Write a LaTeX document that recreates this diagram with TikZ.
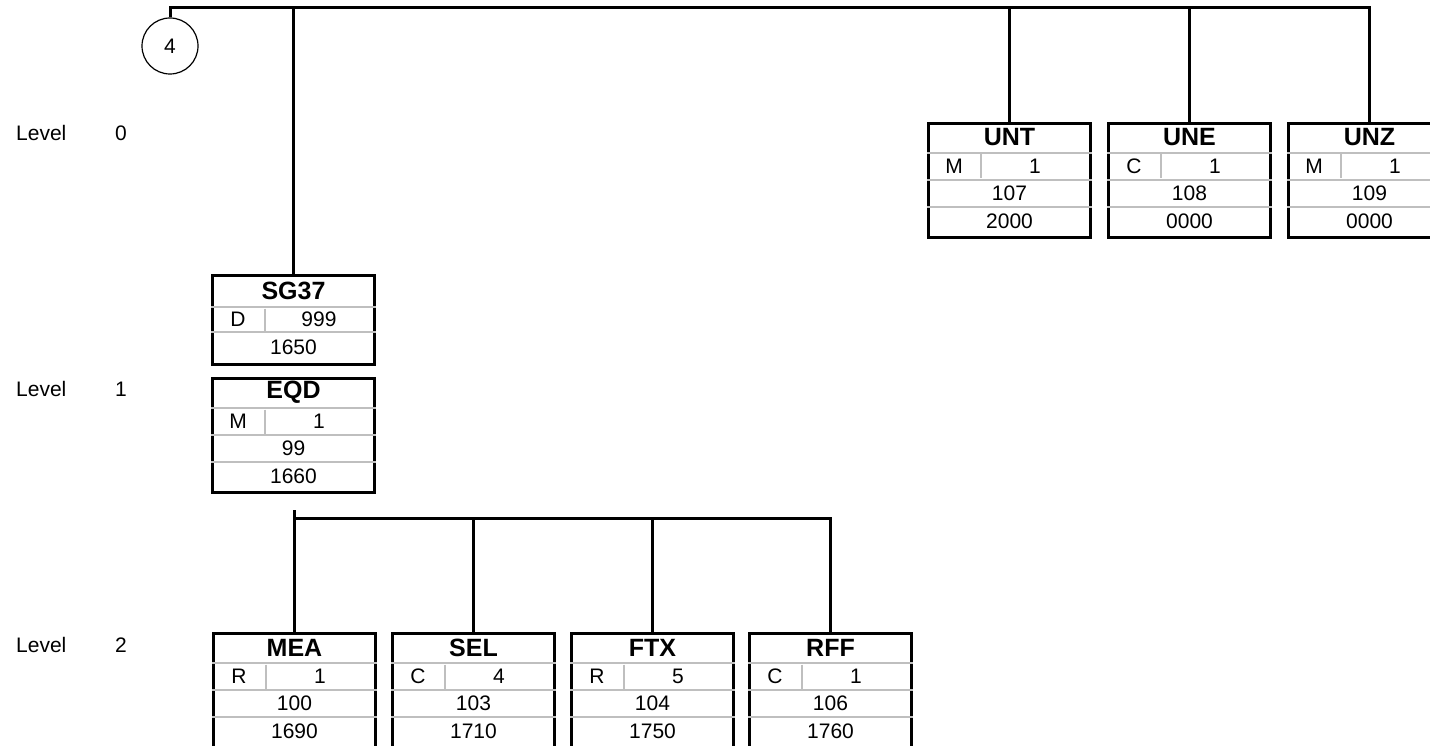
\documentclass[tikz,border=0pt]{standalone}
\usepackage{fontspec}
\setmainfont{Liberation Sans}
\usetikzlibrary{positioning}
\tikzset{
  link/.style={line width=3pt,draw=black},
  segbox/.style={draw=black,line width=3pt,minimum width=162pt,minimum height=114pt,
    inner sep=0pt,anchor=north west},
  grpbox/.style={segbox,minimum height=89pt},
  rowline/.style={draw=gray!50,line width=1.6pt,shorten <=1.5pt,shorten >=1.5pt},
  ttl/.style={font=\fontsize{25}{28}\selectfont\bfseries,inner sep=0pt},
  txt/.style={font=\fontsize{21}{24}\selectfont,inner sep=0pt},
}

\begin{document}
\begin{tikzpicture}[x=1pt,y=-1pt]
  \useasboundingbox (0,0) rectangle (1430,746);
  % level labels
  \foreach \l/\y in {0/133,1/389,2/645}
  {
    \node[txt,anchor=west] (lv\l) at (16,\y) {Level};
    \node[txt] (lvn\l) at (121,\y) {\l};
  }
  % connector circle
  \node[circle,draw,line width=1.2pt,minimum size=56pt,txt] (circ) at (170,46) {4};
  % segment group
  \node[grpbox] (sg37) at (211,274) {};
  \draw[rowline] ([yshift=-33pt]sg37.north west) -- ([yshift=-33pt]sg37.north east)
    ([yshift=-58pt]sg37.north west) -- ([yshift=-58pt]sg37.north east)
    ([shift={(54pt,-33pt)}]sg37.north west) -- ([shift={(54pt,-58pt)}]sg37.north west);
  \node[ttl] (sg37-t) at ([yshift=-16.5pt]sg37.north) {SG37};
  \node[txt] (sg37-s) at ([shift={(27pt,-45.5pt)}]sg37.north west) {D};
  \node[txt] (sg37-r) at ([shift={(108pt,-45.5pt)}]sg37.north west) {999};
  \node[txt] (sg37-q) at ([yshift=-73.5pt]sg37.north) {1650};
  % segments
  \foreach \n/\x/\y/\t/\s/\r/\p/\q in {
    unt/927/122/UNT/M/1/107/2000,
    une/1107/122/UNE/C/1/108/0000,
    unz/1287/122/UNZ/M/1/109/0000,
    eqd/211/377/EQD/M/1/99/1660,
    mea/212/632/MEA/R/1/100/1690,
    sel/391/632/SEL/C/4/103/1710,
    ftx/570/632/FTX/R/5/104/1750,
    rff/748/632/RFF/C/1/106/1760}
  {
    \node[segbox] (\n) at (\x,\y) {};
    \draw[rowline] ([yshift=-31pt]\n.north west) -- ([yshift=-31pt]\n.north east)
      ([yshift=-58pt]\n.north west) -- ([yshift=-58pt]\n.north east)
      ([yshift=-85pt]\n.north west) -- ([yshift=-85pt]\n.north east)
      ([shift={(54pt,-31pt)}]\n.north west) -- ([shift={(54pt,-58pt)}]\n.north west);
    \node[ttl] (\n-t) at ([yshift=-15.5pt]\n.north) {\t};
    \node[txt] (\n-s) at ([shift={(27pt,-44.5pt)}]\n.north west) {\s};
    \node[txt] (\n-r) at ([shift={(108pt,-44.5pt)}]\n.north west) {\r};
    \node[txt] (\n-p) at ([yshift=-71.5pt]\n.north) {\p};
    \node[txt] (\n-q) at ([yshift=-99.5pt]\n.north) {\q};
  }
  % level 0 branches
  \coordinate (top) at (170,8);
  \draw[link] (circ.north) |- (top -| unz.north) -- (unz.north);
  \foreach \b in {sg37,unt,une}
    \draw[link] (top -| \b.north) -- (\b.north);
  % level 2 branches
  \coordinate (stub) at (296,510);
  \coordinate (bar) at (296,518);
  \draw[link] (stub -| mea.north) -- (mea.north);
  \draw[link] (bar -| mea.north) -| (rff.north);
  \foreach \b in {sel,ftx}
    \draw[link] (bar -| \b.north) -- (\b.north);
\end{tikzpicture}
\end{document}
